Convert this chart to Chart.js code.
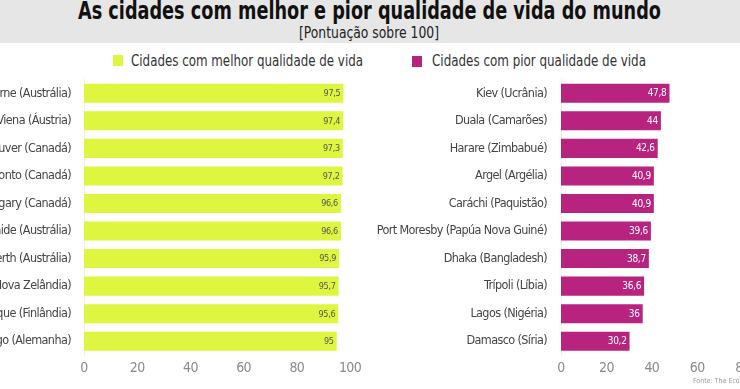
<!DOCTYPE html>
<html>
<head>
<meta charset="utf-8">
<script src="https://cdn.jsdelivr.net/npm/chart.js@4.4.1/dist/chart.umd.min.js"></script>
<style>
  html, body { margin:0; padding:0; }
  body { width:740px; height:389px; overflow:hidden; position:relative; background:#fff;
         font-family:"DejaVu Sans Condensed","Liberation Sans Narrow",sans-serif; }
  #band { position:absolute; left:0; top:0; width:740px; height:43px; background:#e6e6e6; }
  .fit { position:absolute; white-space:nowrap; transform-origin:0 0; }
  #title { left:78px; top:-1px; font-weight:bold; font-size:24px; color:#111; line-height:24px; }
  #subtitle { left:299px; top:25px; font-size:15px; color:#222; line-height:16px; }
  .sq { position:absolute; width:10px; height:11px; }
  #sq1 { left:113px; top:55px; background:#dff640; }
  #sq2 { left:412px; top:56px; background:#b8237f; }
  #leg1 { left:131px; top:52px; font-size:16px; color:#333; line-height:17px; }
  #leg2 { left:432px; top:52px; font-size:16px; color:#333; line-height:17px; }
  #wrapL { position:absolute; left:-150px; top:59px; width:520px; height:323px; }
  #wrapR { position:absolute; left:370px; top:58px; width:440px; height:324px; }
  #fonte { position:absolute; left:693px; top:377px; font-size:7px; color:#999; white-space:nowrap; }
</style>
</head>
<body>
<div id="band"></div>
<div class="fit" id="title" data-w="583">As cidades com melhor e pior qualidade de vida do mundo</div>
<div class="fit" id="subtitle" data-w="140">[Pontuação sobre 100]</div>
<div class="sq" id="sq1"></div>
<div class="fit" id="leg1" data-w="232">Cidades com melhor qualidade de vida</div>
<div class="sq" id="sq2"></div>
<div class="fit" id="leg2" data-w="214">Cidades com pior qualidade de vida</div>
<div id="wrapL"><canvas id="cL"></canvas></div>
<div id="wrapR"><canvas id="cR"></canvas></div>
<div id="fonte">Fonte: The Economist</div>
<script>
const bestCities = ["Melbourne (Austrália)","Viena (Áustria)","Vancouver (Canadá)","Toronto (Canadá)","Calgary (Canadá)","Adelaide (Austrália)","Perth (Austrália)","Auckland (Nova Zelândia)","Helsinque (Finlândia)","Hamburgo (Alemanha)"];
const bestScores = [97.5,97.4,97.3,97.2,96.6,96.6,95.9,95.7,95.6,95];
const worstCities = ["Kiev (Ucrânia)","Duala (Camarões)","Harare (Zimbabué)","Argel (Argélia)","Caráchi (Paquistão)","Port Moresby (Papúa Nova Guiné)","Dhaka (Bangladesh)","Trípoli (Líbia)","Lagos (Nigéria)","Damasco (Síria)"];
const worstScores = [47.8,44,42.6,40.9,40.9,39.6,38.7,36.6,36,30.2];
const xTicks = [0,20,40,60,80,100];
const seriesNames = ["Cidades com melhor qualidade de vida","Cidades com pior qualidade de vida"];

// condense HTML text to the reference widths
document.querySelectorAll('.fit').forEach(el => {
  const w = el.getBoundingClientRect().width;
  const target = parseFloat(el.dataset.w);
  el.style.transform = 'scaleX(' + (target / w) + ')';
});

const FONT = '"DejaVu Sans Condensed","Liberation Sans Narrow",sans-serif';

const narrow = {
  id:'narrow',
  beforeDraw(chart){ try { chart.ctx.letterSpacing = '-0.6px'; } catch(e){} }
};

const valueLabels = {
  id:'valueLabels',
  afterDatasetsDraw(chart, args, opts) {
    const ctx = chart.ctx;
    const meta = chart.getDatasetMeta(0);
    const data = chart.data.datasets[0].data;
    ctx.save();
    try { ctx.letterSpacing = '-0.3px'; } catch(e){}
    ctx.font = opts.font;
    ctx.fillStyle = opts.color;
    ctx.textAlign = 'right';
    ctx.textBaseline = 'middle';
    meta.data.forEach((bar, i) => {
      const t = String(data[i]).replace('.', ',');
      ctx.fillText(t, bar.x - opts.pad, bar.y + 0.5);
    });
    ctx.restore();
  }
};

function makeChart(id, labels, values, color, name, yWidth, padRight, tickPad, lblColor, lblFont) {
  return new Chart(document.getElementById(id), {
    type:'bar',
    data:{ labels, datasets:[{ label:name, data:values, backgroundColor:color,
           barPercentage:0.69, categoryPercentage:1.0 }] },
    plugins:[narrow, valueLabels],
    options:{
      indexAxis:'y',
      responsive:true, maintainAspectRatio:false, animation:false,
      layout:{ padding:{ top:0, right:padRight, left:0, bottom:0 } },
      plugins:{ legend:{display:false}, tooltip:{enabled:false},
                valueLabels:{ font:lblFont, color:lblColor, pad:3 } },
      scales:{
        x:{ min:0, max:100,
            afterBuildTicks(s){ s.ticks = xTicks.map(v=>({value:v})); },
            grid:{ display:false, drawTicks:false }, border:{ display:false },
            ticks:{ color:'#8a8a8a', padding:5, font:{ family:FONT, size:14 } },
            afterFit(s){ s.height = 27; } },
        y:{ grid:{ display:false, drawTicks:false }, border:{ display:true, color:'#eeeeee' },
            ticks:{ color:'#444', padding:tickPad, font:{ family:FONT, size:12.5 } },
            afterFit(s){ s.width = yWidth; } }
      }
    }
  });
}

makeChart('cL', bestCities, bestScores, '#dff640', seriesNames[0], 234, 20, 13, '#555', '9px ' + FONT);
makeChart('cR', worstCities, worstScores, '#b8237f', seriesNames[1], 191, 22, 14, '#ffffff', '10px ' + FONT);
</script>
</body>
</html>
